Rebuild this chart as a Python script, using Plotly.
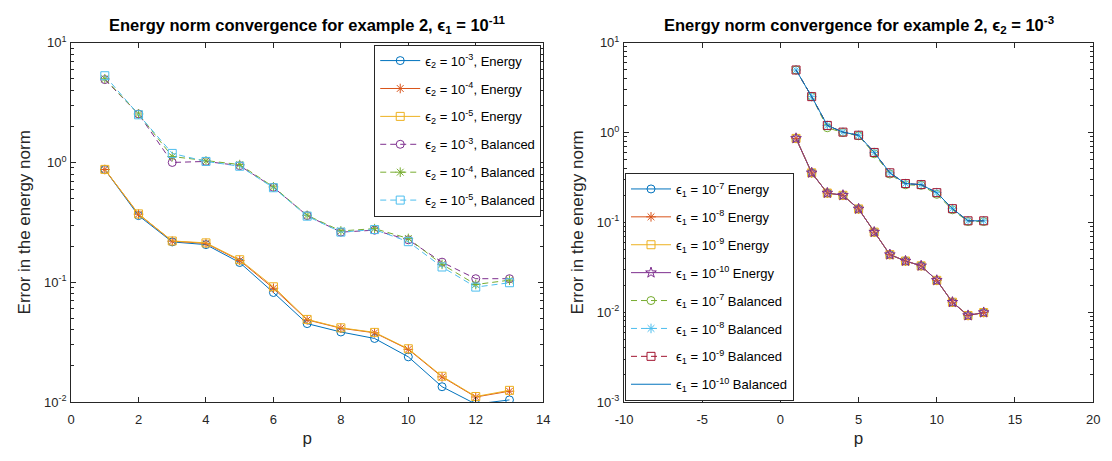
import plotly.graph_objects as go

# ---------------- data ----------------
p = list(range(1, 14))

# Left panel: eps1 = 1e-11
left_E3 = [0.873, 0.36, 0.217, 0.206, 0.146, 0.082, 0.0451, 0.0384, 0.0339, 0.0238, 0.0134, 0.0096, 0.0104]
left_E4 = [0.873, 0.37, 0.220, 0.211, 0.152, 0.089, 0.0485, 0.0413, 0.0378, 0.0275, 0.0162, 0.0110, 0.0123]
left_E5 = [0.875, 0.372, 0.221, 0.213, 0.154, 0.0916, 0.0489, 0.0416, 0.0381, 0.0278, 0.0164, 0.0111, 0.0125]
left_B3 = [4.92, 2.54, 1.0, 1.02, 0.94, 0.62, 0.36, 0.262, 0.272, 0.226, 0.147, 0.107, 0.107]
left_B4 = [5.0, 2.54, 1.12, 1.03, 0.96, 0.625, 0.362, 0.268, 0.28, 0.232, 0.141, 0.0957, 0.104]
left_B5 = [5.3, 2.5, 1.19, 1.02, 0.93, 0.615, 0.356, 0.262, 0.275, 0.218, 0.134, 0.091, 0.099]

# Right panel: eps2 = 1e-3
right_E = [0.86, 0.356, 0.212, 0.2, 0.141, 0.0778, 0.0437, 0.0371, 0.0328, 0.0226, 0.0129, 0.00917, 0.0099]
right_B = [4.97, 2.51, 1.2, 1.01, 0.933, 0.6, 0.356, 0.27, 0.263, 0.214, 0.142, 0.104, 0.104]
right_B7 = [4.97, 2.51, 1.13, 1.0, 0.92, 0.58, 0.345, 0.262, 0.258, 0.205, 0.138, 0.102, 0.102]

left_labels = ["ϵ<sub>2</sub> = 10<sup>-3</sup>, Energy", "ϵ<sub>2</sub> = 10<sup>-4</sup>, Energy",
               "ϵ<sub>2</sub> = 10<sup>-5</sup>, Energy", "ϵ<sub>2</sub> = 10<sup>-3</sup>, Balanced",
               "ϵ<sub>2</sub> = 10<sup>-4</sup>, Balanced", "ϵ<sub>2</sub> = 10<sup>-5</sup>, Balanced"]
right_labels = ["ϵ<sub>1</sub> = 10<sup>-7</sup> Energy", "ϵ<sub>1</sub> = 10<sup>-8</sup> Energy",
                "ϵ<sub>1</sub> = 10<sup>-9</sup> Energy", "ϵ<sub>1</sub> = 10<sup>-10</sup> Energy",
                "ϵ<sub>1</sub> = 10<sup>-7</sup> Balanced", "ϵ<sub>1</sub> = 10<sup>-8</sup> Balanced",
                "ϵ<sub>1</sub> = 10<sup>-9</sup> Balanced", "ϵ<sub>1</sub> = 10<sup>-10</sup> Balanced"]

left_xticks = [0, 2, 4, 6, 8, 10, 12, 14]
right_xticks = [-10, -5, 0, 5, 10, 15, 20]

# ---------------- styling ----------------
C = ["#0072BD", "#D95319", "#EDB120", "#7E2F8E", "#77AC30", "#4DBEEE", "#A2142F"]
AX = "#262626"
FONT = "Liberation Sans, Arial, Helvetica, sans-serif"
W, H = 1112, 461
DASH = "6px,4px"

fig = go.Figure()

left_series = [left_E3, left_E4, left_E5, left_B3, left_B4, left_B5]
left_sym = ["circle-open", "asterisk-open", "square-open", "circle-open", "asterisk-open", "square-open"]
left_dash = ["solid"] * 3 + [DASH] * 3
for i, (ys, lab) in enumerate(zip(left_series, left_labels)):
    fig.add_trace(go.Scatter(
        x=p, y=ys, name=lab, mode="lines+markers",
        line=dict(color=C[i], width=1, dash=left_dash[i]),
        marker=dict(symbol=left_sym[i], size=8, color=C[i], line=dict(width=1, color=C[i])),
        xaxis="x", yaxis="y", legend="legend", legendgroup="l%d" % i))

right_series = [right_E, right_E, right_E, right_E, right_B7, right_B, right_B, right_B]
right_sym = ["circle-open", "asterisk-open", "square-open", "star-open",
             "circle-open", "asterisk-open", "square-open", None]
right_col = C + [C[0]]
right_dash = ["solid"] * 4 + [DASH] * 3 + ["solid"]
for i, (ys, lab) in enumerate(zip(right_series, right_labels)):
    sym = right_sym[i]
    fig.add_trace(go.Scatter(
        x=p, y=ys, name=lab, mode="lines+markers" if sym else "lines",
        line=dict(color=right_col[i], width=1, dash=right_dash[i]),
        marker=dict(symbol=sym or "circle", size=8, color=right_col[i], line=dict(width=1, color=right_col[i])),
        xaxis="x2", yaxis="y2", legend="legend2", legendgroup="r%d" % i))


def minor_vals(d0, d1):
    return [k * 10 ** d for d in range(d0, d1) for k in range(2, 10)]


def dec_text(d):
    return "10<sup>%d</sup>" % d


TICKF = dict(family=FONT, size=13, color=AX)
LABF = dict(family=FONT, size=17, color=AX)
axis_common = dict(showline=True, linecolor=AX, linewidth=1, mirror="ticks", ticks="inside",
                   ticklen=5, tickcolor=AX, showgrid=False, zeroline=False, tickfont=TICKF)

yl = [-2, -1, 0, 1]
yr = [-3, -2, -1, 0, 1]
ydom = [1 - 408 / H, 1 - 35 / H]

fig.update_layout(
    width=W, height=H, autosize=False,
    margin=dict(l=0, r=0, t=0, b=0),
    paper_bgcolor="white", plot_bgcolor="white",
    font=dict(family=FONT, color=AX),
    xaxis=dict(domain=[63 / W, 542 / W], range=[0, 14], tickvals=left_xticks,
               ticktext=[str(v) for v in left_xticks], anchor="y", ticklabelstandoff=5,
               title=dict(text="p", font=LABF, standoff=6), **axis_common),
    yaxis=dict(domain=ydom, type="log", range=[-2, 1], tickvals=[10 ** d for d in yl],
               ticktext=[dec_text(d) for d in yl], anchor="x", ticklabelstandoff=1,
               minor=dict(ticks="inside", ticklen=3, tickcolor=AX, tickmode="array",
                          tickvals=minor_vals(-2, 1)),
               title=dict(text="Error in the energy norm", font=LABF, standoff=8),
               **axis_common),
    xaxis2=dict(domain=[624 / W, 1100 / W], range=[-10, 20], tickvals=right_xticks,
                ticktext=[str(v) for v in right_xticks], anchor="y2", ticklabelstandoff=5,
                title=dict(text="p", font=LABF, standoff=6), **axis_common),
    yaxis2=dict(domain=ydom, type="log", range=[-3, 1], tickvals=[10 ** d for d in yr],
                ticktext=[dec_text(d) for d in yr], anchor="x2", ticklabelstandoff=1,
                minor=dict(ticks="inside", ticklen=3, tickcolor=AX, tickmode="array",
                           tickvals=minor_vals(-3, 1)),
                title=dict(text="Error in the energy norm", font=LABF, standoff=8),
                **axis_common),
    legend=dict(x=540 / W, xanchor="right", y=1 - 37 / H, yanchor="top",
                bgcolor="white", bordercolor=AX, borderwidth=1,
                font=dict(family=FONT, size=13, color="black"), tracegroupgap=8, itemwidth=40),
    legend2=dict(x=625 / W, xanchor="left", y=1 - 407 / H, yanchor="bottom",
                 bgcolor="white", bordercolor=AX, borderwidth=1,
                 font=dict(family=FONT, size=13, color="black"), tracegroupgap=8, itemwidth=40),
    showlegend=True,
    annotations=[
        dict(text="<b>Energy norm convergence for example 2, ϵ<sub>1</sub> = 10<sup>-11</sup></b>",
             x=(63 + 542) / 2 / W, y=1 - 17 / H, xref="paper", yref="paper", showarrow=False,
             xanchor="center", yanchor="middle",
             font=dict(family=FONT, size=16.5, color="black")),
        dict(text="<b>Energy norm convergence for example 2, ϵ<sub>2</sub> = 10<sup>-3</sup></b>",
             x=(624 + 1100) / 2 / W, y=1 - 17 / H, xref="paper", yref="paper", showarrow=False,
             xanchor="center", yanchor="middle",
             font=dict(family=FONT, size=16.5, color="black")),
    ],
)

fig.write_html("out.html", config={"displayModeBar": False},
               post_script="document.body.style.margin='0';")
